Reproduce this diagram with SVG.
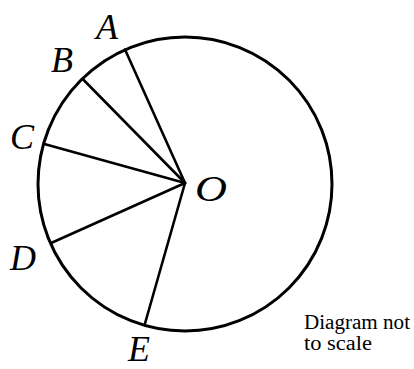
<svg xmlns="http://www.w3.org/2000/svg" width="414" height="369" viewBox="0 0 414 369">
<style>
.lbl{font-family:'Liberation Serif','Times New Roman',Times,serif;font-style:italic;font-size:36px;fill:#000}
.note{font-family:'Liberation Serif','Times New Roman',Times,serif;font-size:20px;fill:#000}
.r{stroke:#000;stroke-width:2.6;fill:none;stroke-linecap:round}
</style>
<rect width="414" height="369" fill="#fff"/>
<g id="circle"><circle cx="185" cy="184" r="147" fill="none" stroke="#000" stroke-width="3"/></g>
<g id="connectors">
<line class="r" x1="185" y1="183" x2="125" y2="49.5"/>
<line class="r" x1="185" y1="183" x2="82.7" y2="79"/>
<line class="r" x1="185" y1="183" x2="44.3" y2="144"/>
<line class="r" x1="185" y1="183" x2="51.7" y2="242.7"/>
<line class="r" x1="185" y1="183" x2="145" y2="323.5"/>
</g>
<g id="A"><text class="lbl" x="96" y="39">A</text></g>
<g id="B"><text class="lbl" x="51" y="72">B</text></g>
<g id="C"><text class="lbl" x="10" y="149">C</text></g>
<g id="D"><text class="lbl" x="10" y="270" font-size="42">D</text></g>
<g id="E"><text class="lbl" x="128" y="361">E</text></g>
<g id="O"><text class="lbl" x="195" y="201" font-size="38" textLength="32" lengthAdjust="spacingAndGlyphs">O</text></g>
<g id="note">
<text class="note" x="304" y="329" textLength="106" lengthAdjust="spacingAndGlyphs">Diagram not</text>
<text class="note" x="304" y="350" textLength="68" lengthAdjust="spacingAndGlyphs">to scale</text>
</g>
</svg>
